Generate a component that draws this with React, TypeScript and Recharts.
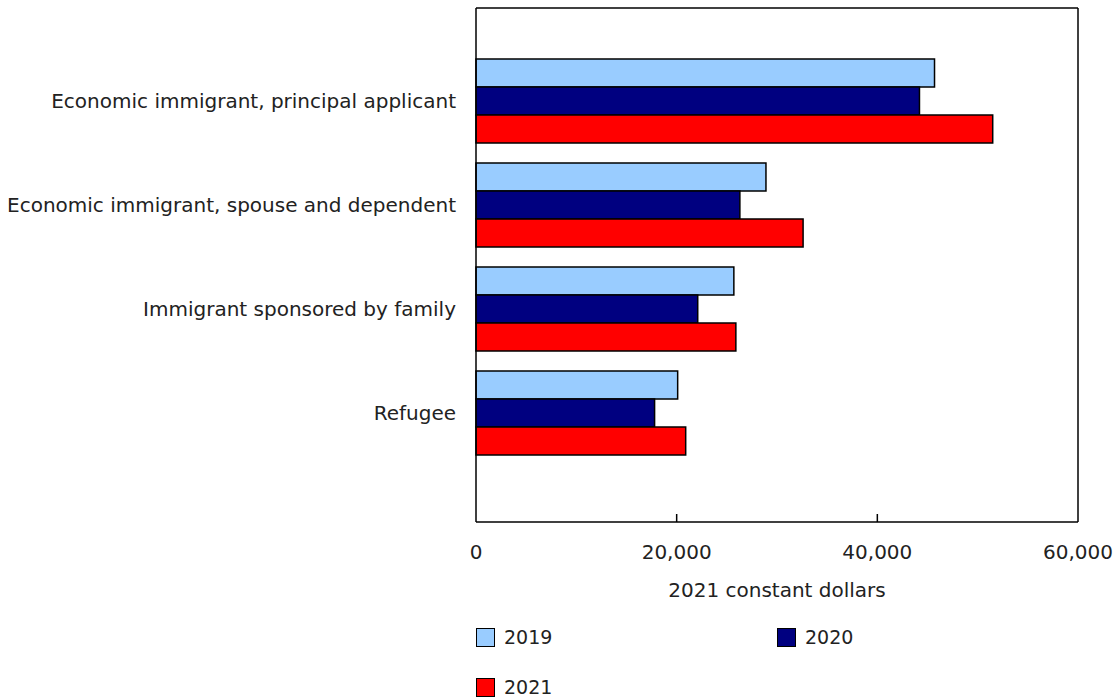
import React from 'react';
import { BarChart, Bar, XAxis, YAxis } from 'recharts';

const categories = [
  'Economic immigrant, principal applicant',
  'Economic immigrant, spouse and dependent',
  'Immigrant sponsored by family',
  'Refugee',
];
const values2019 = [45700, 28900, 25700, 20100];
const values2020 = [44200, 26300, 22100, 17800];
const values2021 = [51500, 32600, 25900, 20900];
const xTicks = [0, 20000, 40000, 60000];

const series = [
  { key: 'y2019', name: '2019', color: '#99CCFF' },
  { key: 'y2020', name: '2020', color: '#000080' },
  { key: 'y2021', name: '2021', color: '#FF0000' },
];

const data = categories.map((c, i) => ({
  category: c,
  y2019: values2019[i],
  y2020: values2020[i],
  y2021: values2021[i],
}));

const FONT = '"DejaVu Sans", Verdana, sans-serif';
const AXIS_LINE = { stroke: '#000', strokeWidth: 1.5 };

function XTick(props: any) {
  const { x, y, payload, index } = props;
  const inner = index > 0 && index < xTicks.length - 1;
  return (
    <g>
      {inner && <line x1={x} x2={x} y1={y} y2={y - 8} stroke="#000" strokeWidth={1.5} />}
      <text x={x} y={y + 37} textAnchor="middle" fontSize={20} fontFamily={FONT} fill="#222">
        {payload.value.toLocaleString('en-US')}
      </text>
    </g>
  );
}

export default function App() {
  return (
    <div
      style={{
        position: 'fixed',
        left: 0,
        top: 0,
        width: 1115,
        height: 700,
        overflow: 'hidden',
        background: '#fff',
        fontFamily: FONT,
      }}
    >
      <BarChart
        width={1115}
        height={700}
        data={data}
        layout="vertical"
        margin={{ top: 7, right: 36, left: 0, bottom: 98 }}
        barCategoryGap={10}
        barGap={0}
      >
        <XAxis
          type="number"
          domain={[0, 60000]}
          ticks={xTicks}
          tickLine={false}
          tickSize={0}
          tickMargin={0}
          tick={<XTick />}
          height={80}
          axisLine={AXIS_LINE}
          label={{
            value: '2021 constant dollars',
            position: 'insideBottom',
            offset: 5,
            fontSize: 20,
            fontFamily: FONT,
            fill: '#222',
          }}
        />
        <XAxis
          xAxisId="top"
          orientation="top"
          type="number"
          domain={[0, 60000]}
          tick={false}
          tickLine={false}
          height={1}
          axisLine={AXIS_LINE}
        />
        <YAxis
          type="category"
          dataKey="category"
          width={476}
          tickLine={false}
          tickSize={0}
          tickMargin={20}
          padding={{ top: 41, bottom: 57 }}
          axisLine={AXIS_LINE}
          tick={{ fontSize: 20, fontFamily: FONT, fill: '#222' }}
        />
        <YAxis
          yAxisId="right"
          orientation="right"
          type="category"
          dataKey="category"
          width={1}
          tick={false}
          tickLine={false}
          axisLine={AXIS_LINE}
        />
        {series.map((s) => (
          <Bar
            key={s.key}
            dataKey={s.key}
            name={s.name}
            fill={s.color}
            stroke="#000"
            strokeWidth={1.5}
            isAnimationActive={false}
          />
        ))}
      </BarChart>
      {series.map((s, i) => (
        <div
          key={s.key}
          style={{
            position: 'absolute',
            left: i % 2 === 0 ? 476 : 777,
            top: 627 + Math.floor(i / 2) * 50,
            height: 20,
            display: 'flex',
            alignItems: 'center',
            fontSize: 19,
            color: '#222',
          }}
        >
          <span
            style={{
              display: 'inline-block',
              width: 17,
              height: 17,
              background: s.color,
              border: '1.5px solid #000',
              marginRight: 9,
            }}
          />
          {s.name}
        </div>
      ))}
    </div>
  );
}
